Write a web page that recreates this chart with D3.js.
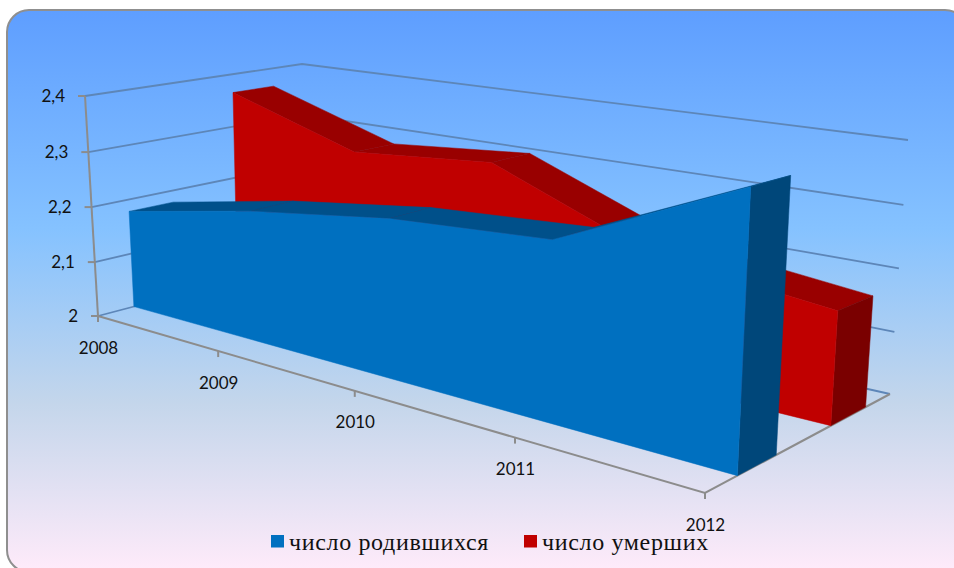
<!DOCTYPE html>
<html>
<head>
<meta charset="utf-8">
<script src="https://cdn.jsdelivr.net/npm/d3@7"></script>
<style>
html, body { margin: 0; padding: 0; background: #fff; }
svg { display: block; }
</style>
</head>
<body>
<div id="main"></div>
<script>
var years = [2008, 2009, 2010, 2011, 2012];
var births = [2.178, 2.225, 2.259, 2.275, 2.396];
var deaths = [2.365, 2.289, 2.31, 2.205, 2.173];
var valueTicks = [2, 2.1, 2.2, 2.3, 2.4];
var seriesNames = ["число родившихся", "число умерших"];

var ctx = {
    w: 954,
    h: 568,
    // corners of the 3d box on screen: floor (F) and top (T), front/back, left/right
    F00: [98, 316], F10: [705, 493], F01: [303, 262], F11: [890, 394],
    T00: [85, 96], T10: [717.5, 193], T01: [302, 64], T11: [908, 140],
    grid: "#5d86b8",
    axis: "#8c8c8c",
    text: "#111111"
};

// position along the front edge, taken from the tick marks (perspective squeezes the start)
var tScale = d3.scaleLinear().domain(years).range([0, 0.198, 0.423, 0.687, 1]);
var vScale = d3.scaleLinear().domain(valueTicks).range([0, 0.245, 0.495, 0.745, 1]);

// trilinear mapping of (year, depth, value) into the box
var project = function(year, z, value){
    var t = tScale(year), v = vScale(value);
    var floor = d3.interpolate(
        d3.interpolate(ctx.F00, ctx.F10)(t),
        d3.interpolate(ctx.F01, ctx.F11)(t))(z);
    var top = d3.interpolate(
        d3.interpolate(ctx.T00, ctx.T10)(t),
        d3.interpolate(ctx.T01, ctx.T11)(t))(z);
    return d3.interpolate(floor, top)(v);
};

var series = [
    { name: seriesNames[1], values: deaths, z0: 0.68, z1: 0.868, front: "#c00000", top: "#990000", cap: "#7a0000" },
    { name: seriesNames[0], values: births, z0: 0.175, z1: 0.385, front: "#0070c0", top: "#00508a", cap: "#00477a" }
];

var svg = d3.select("#main").append("svg")
    .attr("width", ctx.w)
    .attr("height", ctx.h);

var grad = svg.append("defs").append("linearGradient")
    .attr("id", "bg").attr("x1", 0).attr("y1", 0).attr("x2", 0).attr("y2", 1);
[["0%", "#5e9eff"], ["39%", "#85c2ff"], ["70%", "#c4d6eb"], ["100%", "#ffebfa"]].forEach(function(s){
    grad.append("stop").attr("offset", s[0]).attr("stop-color", s[1]);
});

svg.append("rect")
    .attr("x", 7).attr("y", 10)
    .attr("width", 960).attr("height", 562)
    .attr("rx", 22).attr("ry", 22)
    .attr("fill", "url(#bg)")
    .attr("stroke", "#8f8f8f")
    .attr("stroke-width", 2);

var line = d3.line();
var first = years[0], last = years[years.length - 1];

// walls: one line per value on the left wall and on the back wall
var gridG = svg.append("g").attr("fill", "none").attr("stroke", ctx.grid).attr("stroke-width", 1.8);
gridG.selectAll("path").data(valueTicks).enter().append("path")
    .attr("d", function(d){
        return line([project(first, 0, d), project(first, 1, d), project(last, 1, d)]);
    });

// axes
var axisG = svg.append("g").attr("fill", "none").attr("stroke", ctx.axis).attr("stroke-width", 2);
axisG.append("path").attr("d", line([project(first, 0, 2), project(first, 0, 2.4)]));
axisG.append("path").attr("d", line([project(first, 0, 2), project(last, 0, 2), project(last, 1, 2)]));
axisG.selectAll("path.vt").data(valueTicks).enter().append("path")
    .attr("class", "vt")
    .attr("d", function(d){
        var p = project(first, 0, d);
        return line([p, [p[0] - 7, p[1]]]);
    });
axisG.selectAll("path.xt").data(years).enter().append("path")
    .attr("class", "xt")
    .attr("d", function(d){
        var p = project(d, 0, 2);
        return line([p, [p[0], p[1] + 6]]);
    });

// the two ribbons, back one first
series.forEach(function(s){
    var g = svg.append("g");
    // top strips between consecutive years
    for (var i = 0; i < years.length - 1; i++) {
        g.append("path")
            .attr("fill", s.top)
            .attr("stroke", s.top).attr("stroke-width", 0.5)
            .attr("d", line([
                project(years[i], s.z0, s.values[i]),
                project(years[i], s.z1, s.values[i]),
                project(years[i + 1], s.z1, s.values[i + 1]),
                project(years[i + 1], s.z0, s.values[i + 1])
            ]) + "Z");
    }
    var n = years.length - 1;
    // end cap at the last year
    g.append("path")
        .attr("fill", s.cap)
        .attr("stroke", s.cap).attr("stroke-width", 0.5)
        .attr("d", line([
            project(last, s.z0, s.values[n]),
            project(last, s.z1, s.values[n]),
            project(last, s.z1, 2),
            project(last, s.z0, 2)
        ]) + "Z");
    // front face
    var pts = years.map(function(y, i){ return project(y, s.z0, s.values[i]); });
    pts.push(project(last, s.z0, 2));
    pts.push(project(first, s.z0, 2));
    g.append("path")
        .attr("fill", s.front)
        .attr("stroke", s.front).attr("stroke-width", 0.5)
        .attr("d", line(pts) + "Z");
});

// value labels
svg.append("g").selectAll("text").data(valueTicks).enter().append("text")
    .attr("x", function(d){ return project(first, 0, d)[0] - 20; })
    .attr("y", function(d){ return project(first, 0, d)[1] + 6; })
    .attr("text-anchor", "end")
    .style("font-family", "Lato")
    .style("font-size", "17px")
    .style("fill", ctx.text)
    .text(function(d){ return d3.format(".1f")(d).replace(".", ",").replace(",0", ""); });

// year labels
svg.append("g").selectAll("text").data(years).enter().append("text")
    .attr("x", function(d){ return project(d, 0, 2)[0] + 0.5; })
    .attr("y", function(d){ return project(d, 0, 2)[1] + 37.5; })
    .attr("text-anchor", "middle")
    .style("font-family", "Lato")
    .style("font-size", "17px")
    .style("fill", ctx.text)
    .text(function(d){ return d; });

// legend
var legend = svg.append("g").selectAll("g")
    .data([
        { name: seriesNames[0], color: "#0070c0", x: 271 },
        { name: seriesNames[1], color: "#c00000", x: 524 }
    ])
    .enter().append("g")
    .attr("transform", function(d){ return "translate(" + d.x + ",535)"; });
legend.append("rect")
    .attr("width", 13).attr("height", 12.5)
    .attr("fill", function(d){ return d.color; });
legend.append("text")
    .attr("x", 18).attr("y", 15)
    .style("font-family", "Liberation Serif")
    .style("font-size", "24px")
    .style("letter-spacing", "0.65px")
    .style("fill", ctx.text)
    .text(function(d){ return d.name; });
</script>
</body>
</html>
